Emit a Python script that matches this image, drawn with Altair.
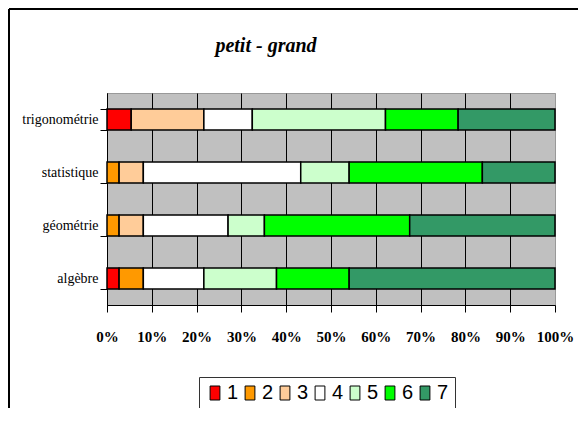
import altair as alt
import pandas as pd

subjects = ["trigonométrie", "statistique", "géométrie", "algèbre"]
levels = ["1", "2", "3", "4", "5", "6", "7"]
# number of answers per level (1..7) for each subject
counts_1 = [2, 0, 0, 1]
counts_2 = [0, 1, 1, 2]
counts_3 = [6, 2, 2, 0]
counts_4 = [4, 13, 7, 5]
counts_5 = [11, 4, 3, 6]
counts_6 = [6, 11, 12, 6]
counts_7 = [8, 6, 12, 17]
level_colors = ["#FF0000", "#FF9900", "#FFCC99", "#FFFFFF", "#CCFFCC", "#00FF00", "#339966"]
tick_values = [0, 0.1, 0.2, 0.3, 0.4, 0.5, 0.6, 0.7, 0.8, 0.9, 1.0]
title_text = "petit - grand"

series = [counts_1, counts_2, counts_3, counts_4, counts_5, counts_6, counts_7]
rows = []
for rank, (lvl, vals) in enumerate(zip(levels, series)):
    for subj, v in zip(subjects, vals):
        rows.append({"subject": subj, "level": lvl, "rank": rank, "count": v})
df = pd.DataFrame(rows)

bars = alt.Chart(df).transform_filter("datum.count > 0").mark_bar(
    stroke="black", strokeWidth=1.5
).encode(
    x=alt.X(
        "count:Q",
        stack="normalize",
        scale=alt.Scale(domain=[0, 1]),
        axis=alt.Axis(
            title=None,
            values=tick_values,
            format=".0%",
            grid=True,
            gridColor={"condition": {"test": "datum.value >= 1", "value": "#999999"}, "value": "black"},
            gridWidth=1,
            domainColor="black",
            domainWidth=1,
            tickColor="black",
            tickSize=7,
            labelFont="Liberation Serif",
            labelFontSize=15,
            labelFontWeight="bold",
            labelColor="black",
            labelPadding=17,
            labelFlush=False,
        ),
    ),
    y=alt.Y(
        "subject:N",
        sort=subjects,
        scale=alt.Scale(paddingInner=0.6, paddingOuter=0.3),
        axis=alt.Axis(
            title=None,
            tickBand="extent",
            domainColor="black",
            tickColor="black",
            tickSize=7,
            labelFont="Liberation Serif",
            labelFontSize=14,
            labelColor="black",
            labelPadding=2,
            grid=False,
        ),
    ),
    color=alt.Color(
        "level:N",
        scale=alt.Scale(domain=levels, range=level_colors),
        legend=alt.Legend(
            title=None,
            orient="none",
            legendX=92,
            legendY=284,
            direction="horizontal",
            columns=7,
            symbolType="M-0.7,-1H0.7V1H-0.7Z",
            symbolSize=196,
            symbolStrokeColor="black",
            symbolStrokeWidth=1,
            labelFont="Liberation Sans",
            labelFontSize=20,
            labelColor="black",
            labelOffset=2,
            columnPadding=1,
            padding=6,
            strokeColor="#333333",
            fillColor="white",
        ),
    ),
    order=alt.Order("rank:Q", sort="ascending"),
)

frame_df = pd.DataFrame({"k": [0]})
left_border = alt.Chart(frame_df).mark_rule(color="black", strokeWidth=2).encode(
    x=alt.value(-98), y=alt.value(-84), y2=alt.value(330)
)
top_border = alt.Chart(frame_df).mark_rule(color="black", strokeWidth=2).encode(
    x=alt.value(-98), x2=alt.value(480), y=alt.value(-84)
)

chart = alt.layer(bars, left_border, top_border).properties(
    width=448,
    height=212,
    padding={"left": 99, "top": 85, "right": 23, "bottom": 103},
    autosize=alt.AutoSizeParams(type="none"),
    background="white",
    title=alt.TitleParams(
        title_text,
        font="Liberation Serif",
        fontSize=20,
        fontWeight="bold",
        fontStyle="italic",
        color="black",
        anchor="middle",
        dx=-65,
        dy=48,
        offset=0,
    ),
).configure_view(fill="#C0C0C0", stroke="#999999")

chart.save("out.html", embed_options={"renderer": "svg", "actions": False})
